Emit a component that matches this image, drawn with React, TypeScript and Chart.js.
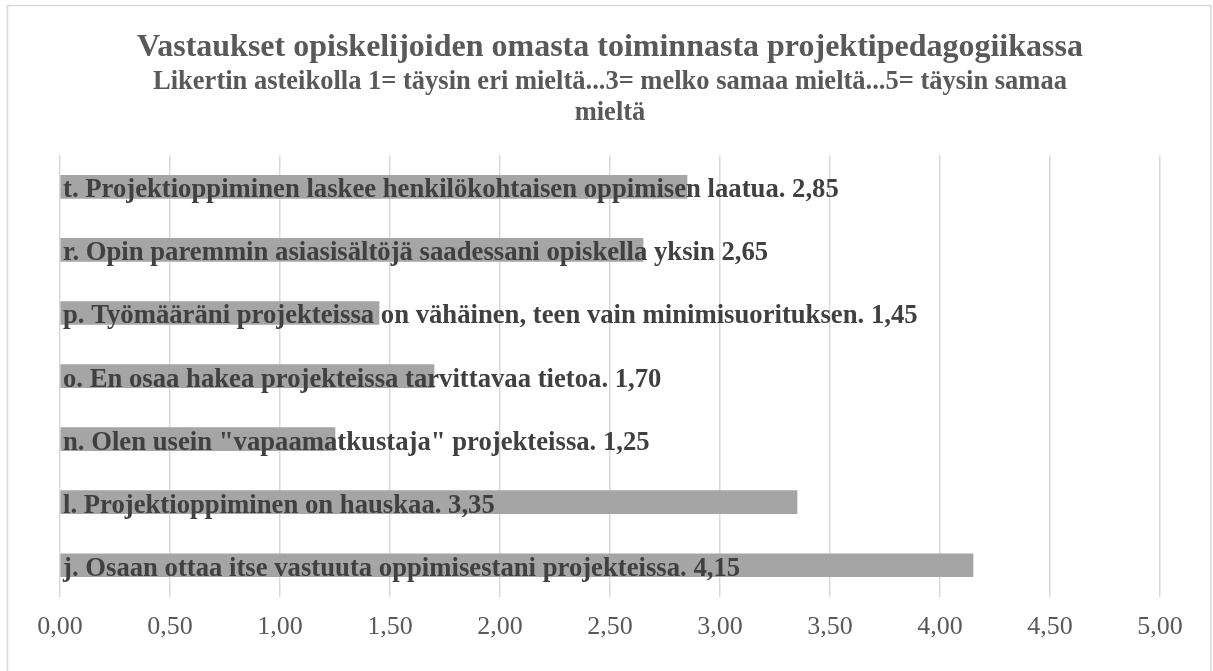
import React, { useEffect, useRef } from "react";
import { Chart, registerables } from "chart.js";

Chart.register(...registerables);

const categories = [
  "t. Projektioppiminen laskee henkilökohtaisen oppimisen laatua.",
  "r. Opin paremmin asiasisältöjä saadessani opiskella yksin",
  "p. Työmääräni projekteissa on vähäinen, teen vain minimisuorituksen.",
  "o. En osaa hakea projekteissa tarvittavaa tietoa.",
  "n. Olen usein \"vapaamatkustaja\" projekteissa.",
  "l. Projektioppiminen on hauskaa.",
  "j. Osaan ottaa itse vastuuta oppimisestani projekteissa.",
];
const values = [2.85, 2.65, 1.45, 1.7, 1.25, 3.35, 4.15];
const titleText = "Vastaukset opiskelijoiden omasta toiminnasta projektipedagogiikassa";
const subtitleLines = [
  "Likertin asteikolla 1= täysin eri mieltä...3= melko samaa mieltä...5= täysin samaa",
  "mieltä",
];
const xMin = 0;
const xMax = 5;
const xStep = 0.5;

const fmt = (v: number) => v.toFixed(2).replace(".", ",");
const FONT = "'Liberation Serif', 'Times New Roman', serif";

const borderPlugin = {
  id: "outerBorder",
  beforeDraw(chart: any) {
    const ctx = chart.ctx;
    ctx.save();
    ctx.fillStyle = "#ffffff";
    ctx.fillRect(0, 0, chart.width, chart.height);
    ctx.strokeStyle = "#d9d9d9";
    ctx.lineWidth = 1.5;
    ctx.strokeRect(7.5, 5.5, chart.width - 9.5, chart.height + 20);
    ctx.restore();
  },
};

const labelPlugin = {
  id: "barLabels",
  afterDatasetsDraw(chart: any) {
    const ctx = chart.ctx;
    const meta = chart.getDatasetMeta(0);
    const xScale = chart.scales.x;
    const x0 = xScale.getPixelForValue(0) + 3;
    ctx.save();
    ctx.font = `bold 26.7px ${FONT}`;
    ctx.fillStyle = "#404040";
    ctx.textAlign = "left";
    ctx.textBaseline = "alphabetic";
    meta.data.forEach((bar: any, i: number) => {
      const txt = `${categories[i]} ${fmt(values[i])}`;
      ctx.fillText(txt, x0, bar.y + 10.5);
    });
    ctx.restore();
  },
};

export default function App() {
  const ref = useRef<HTMLCanvasElement>(null);
  useEffect(() => {
    if (!ref.current) return;
    const chart = new Chart(ref.current, {
      type: "bar",
      data: {
        labels: categories,
        datasets: [
          {
            data: values,
            backgroundColor: "#a5a5a5",
            borderWidth: 0,
            barThickness: 23,
          },
        ],
      },
      options: {
        indexAxis: "y",
        animation: false,
        responsive: false,
        layout: { padding: { left: 60, right: 53, top: 0, bottom: 13 } },
        plugins: {
          legend: { display: false },
          tooltip: { enabled: false },
          title: {
            display: true,
            text: titleText,
            color: "#595959",
            font: { family: FONT, size: 32, weight: "bold", lineHeight: 1.15 },
            padding: { top: 29.5, bottom: 0 },
          },
          subtitle: {
            display: true,
            text: subtitleLines,
            color: "#595959",
            font: { family: FONT, size: 26.5, weight: "bold", lineHeight: 1.17 },
            padding: { top: 0, bottom: 27 },
          },
        },
        scales: {
          x: {
            min: xMin,
            max: xMax,
            grid: { color: "#d9d9d9", lineWidth: 1.5, drawTicks: false },
            border: { display: false },
            ticks: {
              stepSize: xStep,
              padding: 15,
              color: "#595959",
              font: { family: FONT, size: 26 },
              callback: (v: any) => fmt(Number(v)),
            },
          },
          y: { display: false },
        },
      },
      plugins: [borderPlugin, labelPlugin],
    });
    return () => chart.destroy();
  }, []);
  return (
    <canvas
      ref={ref}
      width={1213}
      height={671}
      style={{ position: "fixed", left: 0, top: 0, width: 1213, height: 671 }}
    />
  );
}
